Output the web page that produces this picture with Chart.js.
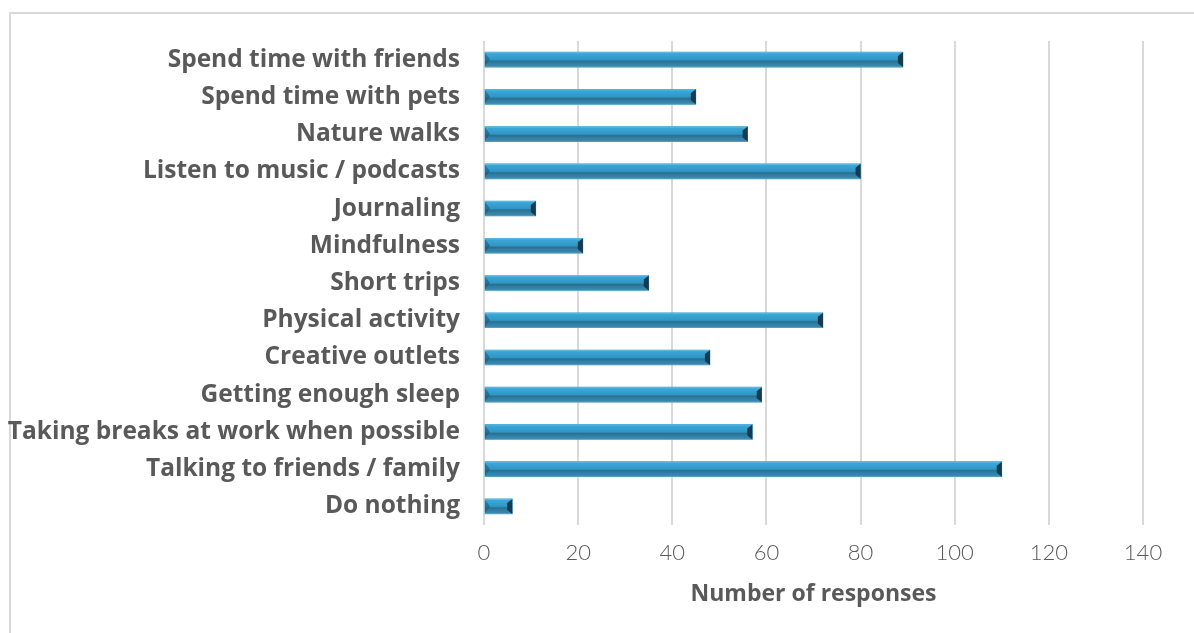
<!DOCTYPE html>
<html>
<head>
<meta charset="utf-8">
<script src="https://cdn.jsdelivr.net/npm/chart.js@4"></script>
<style>
  html, body { margin: 0; padding: 0; background: #fff; }
  #wrap { position: relative; width: 1194px; height: 633px; overflow: hidden; }
  #frame { position: absolute; left: 9px; top: 12px; width: 1300px; height: 700px;
           border-left: 2px solid #d9d9d9; border-top: 2px solid #d9d9d9; }
  canvas { position: absolute; left: 0; top: 0; }
</style>
</head>
<body>
<div id="wrap">
  <div id="frame"></div>
  <canvas id="copingChart" width="1194" height="633"></canvas>
</div>
<script>
const categories = [
  'Spend time with friends',
  'Spend time with pets',
  'Nature walks',
  'Listen to music / podcasts',
  'Journaling',
  'Mindfulness',
  'Short trips',
  'Physical activity',
  'Creative outlets',
  'Getting enough sleep',
  'Taking breaks at work when possible',
  'Talking to friends / family',
  'Do nothing'
];
const responses = [89, 45, 56, 80, 11, 21, 35, 72, 48, 59, 57, 110, 6];
const xTicks = [0, 20, 40, 60, 80, 100, 120, 140];

// draws the bevelled look on top of each bar
const bevelBars = {
  id: 'bevelBars',
  afterDatasetsDraw(chart) {
    const ctx = chart.ctx;
    const meta = chart.getDatasetMeta(0);
    meta.data.forEach(bar => {
      const x0 = bar.base, x1 = bar.x;
      const top = bar.y - bar.height / 2, bot = bar.y + bar.height / 2;
      const h = bot - top;
      const b = Math.min(5, (x1 - x0) / 2);
      ctx.save();
      const g = ctx.createLinearGradient(0, top, 0, bot);
      g.addColorStop(0, '#6cc4ea');
      g.addColorStop(0.1, '#3ba7d7');
      g.addColorStop(0.5, '#3096c6');
      g.addColorStop(0.6, '#2a6f90');
      g.addColorStop(0.75, '#2f7fa4');
      g.addColorStop(0.93, '#3b88ad');
      g.addColorStop(1, '#6aa8c6');
      ctx.fillStyle = g;
      ctx.fillRect(x0, top, x1 - x0, h);
      // left face
      ctx.fillStyle = 'rgba(30,90,120,0.6)';
      ctx.beginPath();
      ctx.moveTo(x0, top + 1); ctx.lineTo(x0 + b, top + h / 2); ctx.lineTo(x0, bot - 1);
      ctx.closePath(); ctx.fill();
      // right face
      ctx.fillStyle = '#163a50';
      ctx.beginPath();
      ctx.moveTo(x1, top); ctx.lineTo(x1 - b, top + b - 1); ctx.lineTo(x1 - b, bot - b + 1);
      ctx.lineTo(x1, bot);
      ctx.closePath(); ctx.fill();
      ctx.restore();
    });
  }
};

const ctx = document.getElementById('copingChart').getContext('2d');
const copingChart = new Chart(ctx, {
  type: 'bar',
  data: {
    labels: categories,
    datasets: [{
      label: 'Number of responses',
      data: responses,
      backgroundColor: '#3096c6',
      barThickness: 15,
      borderWidth: 0
    }]
  },
  options: {
    indexAxis: 'y',
    responsive: false,
    animation: false,
    layout: {
      padding: { left: 0, right: 51, top: 41, bottom: 22 }
    },
    plugins: {
      legend: { display: false },
      tooltip: { enabled: false }
    },
    scales: {
      x: {
        min: 0,
        max: 140,
        afterBuildTicks: scale => {
          scale.ticks = xTicks.map(v => ({ value: v }));
        },
        afterFit: scale => { scale.height = 86; },
        grid: { color: '#d9d9d9', lineWidth: 2, drawTicks: false },
        border: { display: false },
        ticks: {
          color: '#595959',
          padding: 15,
          font: { family: 'Lato', size: 22, weight: 300 }
        },
        title: {
          display: true,
          text: 'Number of responses',
          color: '#595959',
          padding: { top: 10, bottom: 3 },
          font: { family: 'Open Sans', size: 23, weight: 'bold' }
        }
      },
      y: {
        grid: { display: false, drawTicks: false },
        border: { display: false },
        afterFit: scale => { scale.width = 484; },
        ticks: {
          color: '#595959',
          padding: 24,
          font: { family: 'Open Sans', size: 24.5, weight: 'bold' }
        }
      }
    }
  },
  plugins: [bevelBars]
});
</script>
</body>
</html>
